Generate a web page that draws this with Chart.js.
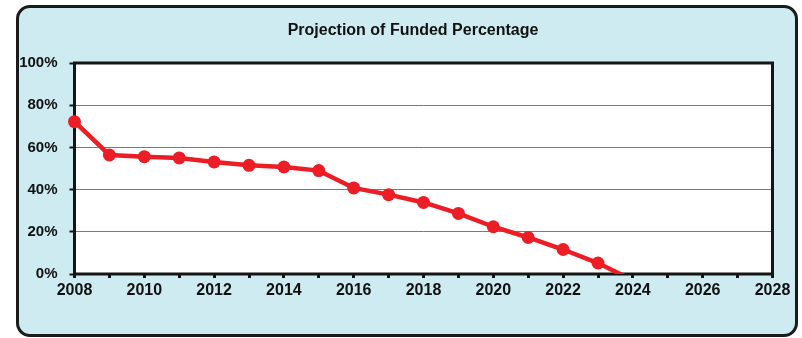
<!DOCTYPE html>
<html>
<head>
<meta charset="utf-8">
<script src="https://cdn.jsdelivr.net/npm/chart.js@4/dist/chart.umd.min.js"></script>
<style>
  html, body { margin: 0; padding: 0; width: 802px; height: 338px; overflow: hidden; background: #ffffff; }
  #frame {
    position: absolute; left: 16px; top: 5px; width: 782px; height: 332px;
    box-sizing: border-box; border: 3px solid #1b1b1b; border-radius: 14px;
    background: #cdebf0;
  }
  #chart { position: absolute; left: 0; top: 0; }
</style>
</head>
<body>
<div id="frame"></div>
<canvas id="chart" width="802" height="338"></canvas>
<script>
// Projected funded ratio by plan year (percent)
const years = [2008, 2009, 2010, 2011, 2012, 2013, 2014, 2015, 2016, 2017, 2018, 2019, 2020, 2021, 2022, 2023, 2024];
const fundedPct = [72.2, 56.4, 55.6, 55.0, 53.1, 51.5, 50.7, 49.0, 40.8, 37.6, 33.9, 28.7, 22.4, 17.3, 11.6, 5.2, -3.0];
const yTicks = [0, 20, 40, 60, 80, 100];
const xRange = [2008, 2028];
const chartTitle = 'Projection of Funded Percentage';

const FONT = '"Liberation Sans", Arial, sans-serif';
const RED = '#ec1d25';

// White plot background, heavy black frame and the heading
const plotFrame = {
  id: 'plotFrame',
  beforeDraw(chart) {
    const { ctx, chartArea: a } = chart;
    ctx.save();
    ctx.fillStyle = '#ffffff';
    ctx.fillRect(a.left, a.top, a.right - a.left, a.bottom - a.top);
    ctx.fillStyle = '#111111';
    ctx.font = 'bold 16px ' + FONT;
    ctx.textAlign = 'center';
    ctx.textBaseline = 'middle';
    ctx.fillText(chartTitle, 413, 31);
    ctx.restore();
  },
  beforeDatasetsDraw(chart) {
    const { ctx, chartArea: a } = chart;
    ctx.save();
    ctx.strokeStyle = '#151515';
    ctx.lineWidth = 3;
    ctx.strokeRect(a.left, a.top, a.right - a.left, a.bottom - a.top);
    ctx.restore();
  }
};

new Chart(document.getElementById('chart'), {
  type: 'line',
  data: {
    datasets: [{
      data: years.map((y, i) => ({ x: y, y: fundedPct[i] })),
      borderColor: RED,
      backgroundColor: RED,
      borderWidth: 4.5,
      pointRadius: ctx => (ctx.raw && ctx.raw.y < 0 ? 0 : 6.5),
      pointBackgroundColor: RED,
      pointBorderWidth: 0,
      tension: 0,
      clip: { left: 10, top: 10, right: 10, bottom: 0 }
    }]
  },
  options: {
    responsive: false,
    animation: false,
    layout: { padding: { left: 0, right: 29.5, top: 63, bottom: 0 } },
    plugins: {
      legend: { display: false },
      tooltip: { enabled: false },
      title: { display: false }
    },
    scales: {
      x: {
        type: 'linear',
        min: xRange[0],
        max: xRange[1],
        afterFit(scale) { scale.height = 64; },
        border: { display: false },
        grid: {
          drawOnChartArea: false,
          drawTicks: true,
          tickLength: 4,
          tickWidth: 3,
          tickColor: '#151515',
          color: '#151515'
        },
        ticks: {
          stepSize: 1,
          autoSkip: false,
          maxRotation: 0,
          padding: 3,
          color: '#111',
          font: { family: FONT, size: 16, weight: 'bold' },
          callback: v => (v % 2 === 0 ? String(v) : '')
        }
      },
      y: {
        min: yTicks[0],
        max: yTicks[yTicks.length - 1],
        afterFit(scale) { scale.width = 74.5; },
        afterBuildTicks(scale) { scale.ticks = yTicks.map(v => ({ value: v })); },
        border: { display: false },
        grid: {
          color: '#7a7a7a',
          lineWidth: 1,
          drawTicks: true,
          tickLength: 5,
          tickWidth: 2,
          tickColor: '#151515'
        },
        ticks: {
          padding: 12,
          color: '#111',
          font: { family: FONT, size: 15, weight: 'bold' },
          callback: v => v + '%'
        }
      }
    }
  },
  plugins: [plotFrame]
});
</script>
</body>
</html>
